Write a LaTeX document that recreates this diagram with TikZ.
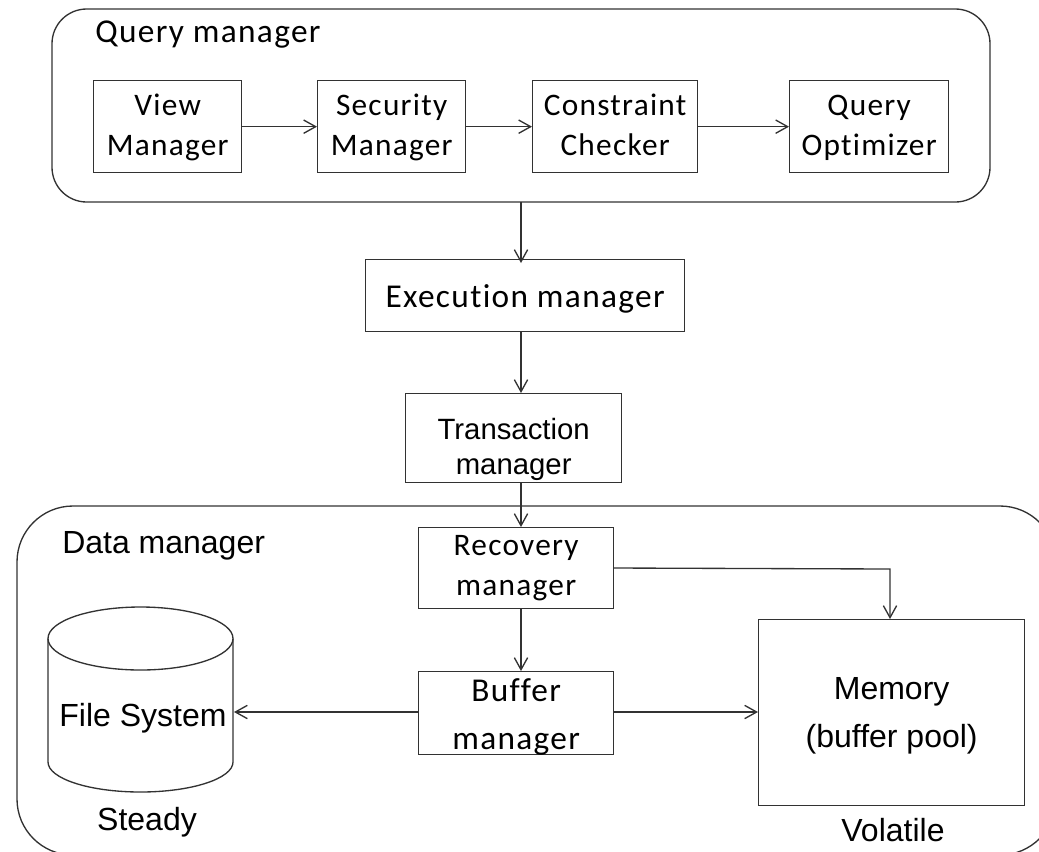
\documentclass[tikz,border=0pt]{standalone}
\usepackage{fontspec}
\setmainfont[Ligatures=NoCommon]{Liberation Sans}
\newfontfamily\calfont[LetterSpace=4,Ligatures=NoCommon]{Carlito}
\usetikzlibrary{arrows.meta,shapes.geometric}
\definecolor{ln}{RGB}{50,50,50}
\tikzset{
  px/.style={x=0.75pt,y=-0.75pt},
  box/.style={draw=ln,line width=1pt,fill=white,align=center,inner sep=0pt,anchor=north west,text=black},
  lbl/.style={inner sep=0pt,text=black,font=\fontsize{24}{28}\selectfont},
  arr/.style={draw=ln,line width=1pt,-{Straight Barb[length=9pt,width=10pt]}},
  grp/.style={draw=ln,line width=1pt},
}
% name, x, y, w, h, raise, font setup, text
\newcommand{\boxnode}[8]{\node[box,minimum width=#4*0.75pt,minimum height=#5*0.75pt] (#1) at (#2,#3) {#7\smash{\raisebox{#6}{\begin{tabular}{@{}c@{}}#8\end{tabular}}}};}
\newcommand{\calsz}{\calfont\fontsize{23.5}{30}\selectfont}
\begin{document}
\begin{tikzpicture}[px]
\useasboundingbox (0,0) rectangle (1039,851);
\begin{scope}
\clip (0,0) rectangle (1039,851);
\draw[grp,rounded corners=26pt] (52,9) rectangle (990,202);
\draw[grp,rounded corners=42pt] (17,506) rectangle (1056,855);
\end{scope}
\node[lbl,anchor=west,font=\calfont\fontsize{25}{30}\selectfont] (qm) at (95,35) {Query manager};
\node[lbl,anchor=west] (dm) at (62,546) {Data manager};
\boxnode{view}{93}{80}{148}{92}{-6.5pt}{\calsz}{View\\Manager}
\boxnode{sec}{317}{80}{148}{92}{-6.5pt}{\calsz}{Security\\Manager}
\boxnode{con}{532}{80}{165}{92}{-6.5pt}{\calsz}{Constraint\\Checker}
\boxnode{opt}{789}{80}{159}{92}{-6.5pt}{\calsz}{Query\\Optimizer}
\boxnode{exe}{365}{259}{319}{72}{-9pt}{\calfont\fontsize{25}{30}\selectfont}{Execution manager}
\boxnode{tra}{405}{393}{216}{89}{-14pt}{\fontsize{22}{26}\selectfont}{Transaction\\manager}
\boxnode{rec}{418}{527}{195}{81}{-6pt}{\calsz}{Recovery\\manager}
\boxnode{buf}{418}{671}{195}{83}{-8.5pt}{\calfont\fontsize{25}{36}\selectfont}{Buffer\\manager}
\boxnode{mem}{758}{619}{266}{186}{-7.5pt}{\fontsize{24}{36}\selectfont}{Memory\\(buffer pool)}
% cylinder
\coordinate (fsE) at (234,712);
\draw[draw=ln,line width=1pt] (48,638.5) arc[x radius=92.5,y radius=31.5,start angle=180,end angle=-180];
\draw[draw=ln,line width=1pt] (48,638.5) -- (48,762) arc[x radius=92.5,y radius=30,start angle=180,end angle=0] -- (233,638.5);
\node[lbl] (fs) at (143,718) {File System};
\node[lbl] (steady) at (147,822) {Steady};
\node[lbl] (vol) at (893,830) {Volatile};
\coordinate (qb) at (521,202);
\coordinate (eT) at (521,263);
\coordinate (eB) at (521,331);
\coordinate (tT) at (521,393);
\coordinate (tB) at (521,482);
\coordinate (rT) at (521,527);
\coordinate (rB) at (521,608);
\coordinate (bT) at (521,671);
\draw[arr] (view.east) -- (sec.west);
\draw[arr] (sec.east) -- (con.west);
\draw[arr] (con.east) -- (opt.west);
\draw[arr] (qb) -- (eT);
\draw[arr] (eB) -- (tT);
\draw[arr] (tB) -- (rT);
\draw[arr] (rB) -- (bT);
\draw[arr] (buf.west |- fsE) -- (fsE);
\draw[arr] (buf.east |- fsE) -- (mem.west |- fsE);
\draw[arr] (613,568) -- (890,569) -- (890,619);
\end{tikzpicture}
\end{document}
